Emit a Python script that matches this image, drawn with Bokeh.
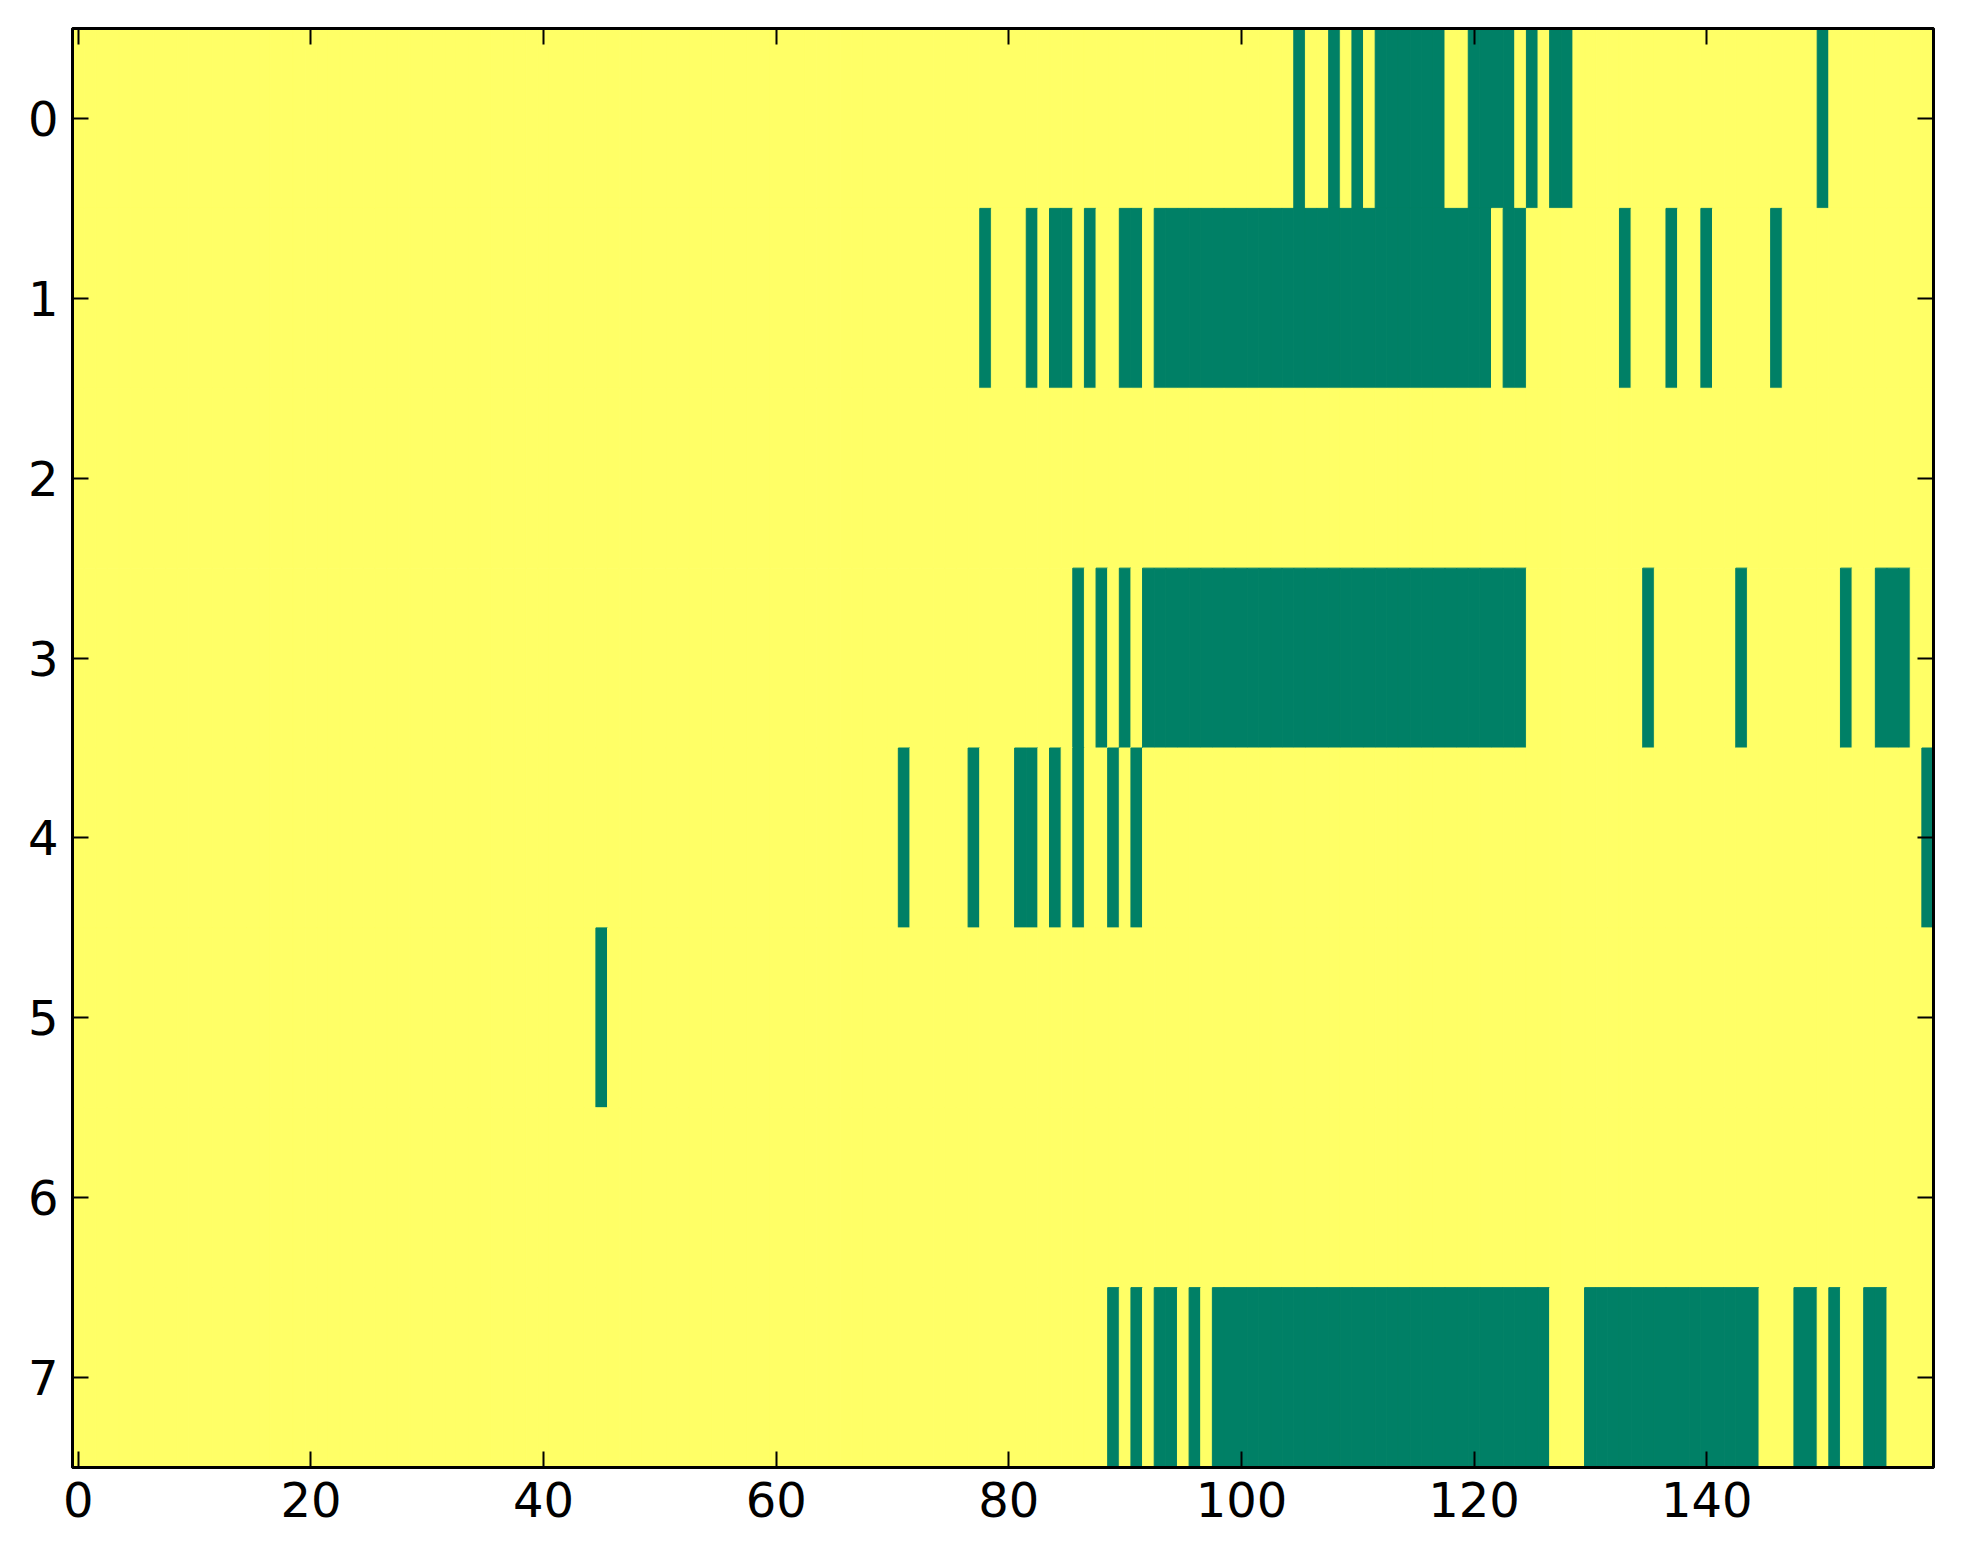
import numpy as np
from bokeh.plotting import figure
from bokeh.models import Range1d, FixedTicker, LinearAxis, ColumnDataSource
from bokeh.embed import file_html
from bokeh.resources import INLINE

n_rows = 8
n_cols = 160

# column indices of the green (value 0) cells in each row
row0 = [105, 108, 110] + list(range(112, 118)) + list(range(120, 124)) + [125, 127, 128, 150]
row1 = [78, 82, 84, 85, 87, 90, 91] + list(range(93, 122)) + [123, 124, 133, 137, 140, 146]
row2 = []
row3 = [86, 88, 90] + list(range(92, 125)) + [135, 143, 152, 155, 156, 157]
row4 = [71, 77, 81, 82, 84, 86, 89, 91, 159]
row5 = [45]
row6 = []
row7 = [89, 91, 93, 94, 96] + list(range(98, 127)) + list(range(130, 145)) + [148, 149, 151, 154, 155]
rows = [row0, row1, row2, row3, row4, row5, row6, row7]

x_ticks = [0, 20, 40, 60, 80, 100, 120, 140]
y_ticks = [0, 1, 2, 3, 4, 5, 6, 7]

GREEN = "#008066"
YELLOW = "#ffff66"

matrix = np.ones((n_rows, n_cols))
for r, cols in enumerate(rows):
    for c in cols:
        matrix[r, c] = 0

xs, ys, colors = [], [], []
for r in range(n_rows):
    for c in range(n_cols):
        xs.append(c)
        ys.append(r)
        colors.append(GREEN if matrix[r, c] == 0 else YELLOW)
src = ColumnDataSource(dict(x=xs, y=ys, color=colors))

p = figure(
    frame_width=1861, frame_height=1439,
    x_range=Range1d(-0.5, n_cols - 0.5), y_range=Range1d(n_rows - 0.5, -0.5),
    output_backend="svg", toolbar_location=None,
    min_border_left=72, min_border_top=28, min_border_right=14, min_border_bottom=70,
    x_axis_location="below", y_axis_location="left",
)
p.background_fill_color = "white"
p.border_fill_color = "white"
p.grid.visible = False

p.rect(x="x", y="y", width=1, height=1, source=src,
       fill_color="color", line_color="color", line_width=1)

FONT = "DejaVu Sans"
FS = "48px"


def style(ax, labels=True):
    ax.axis_line_color = "black"
    ax.axis_line_width = 3
    ax.major_tick_in = 16
    ax.major_tick_out = 0
    ax.major_tick_line_width = 2
    ax.major_tick_line_color = "black"
    ax.minor_tick_line_color = None
    ax.major_label_text_font = FONT
    ax.major_label_text_font_size = FS if labels else "0px"
    ax.major_label_text_color = "black"
    ax.major_label_standoff = 14


style(p.xaxis[0])
p.xaxis[0].ticker = FixedTicker(ticks=x_ticks)
style(p.yaxis[0])
p.yaxis[0].ticker = FixedTicker(ticks=y_ticks)

top = LinearAxis(ticker=FixedTicker(ticks=x_ticks))
style(top, labels=False)
top.major_label_overrides = {t: "" for t in x_ticks}
p.add_layout(top, "above")

right = LinearAxis(ticker=FixedTicker(ticks=y_ticks))
style(right, labels=False)
right.major_label_overrides = {t: "" for t in y_ticks}
p.add_layout(right, "right")

p.outline_line_color = "black"
p.outline_line_width = 3

open("out.html", "w").write(file_html(p, INLINE))
